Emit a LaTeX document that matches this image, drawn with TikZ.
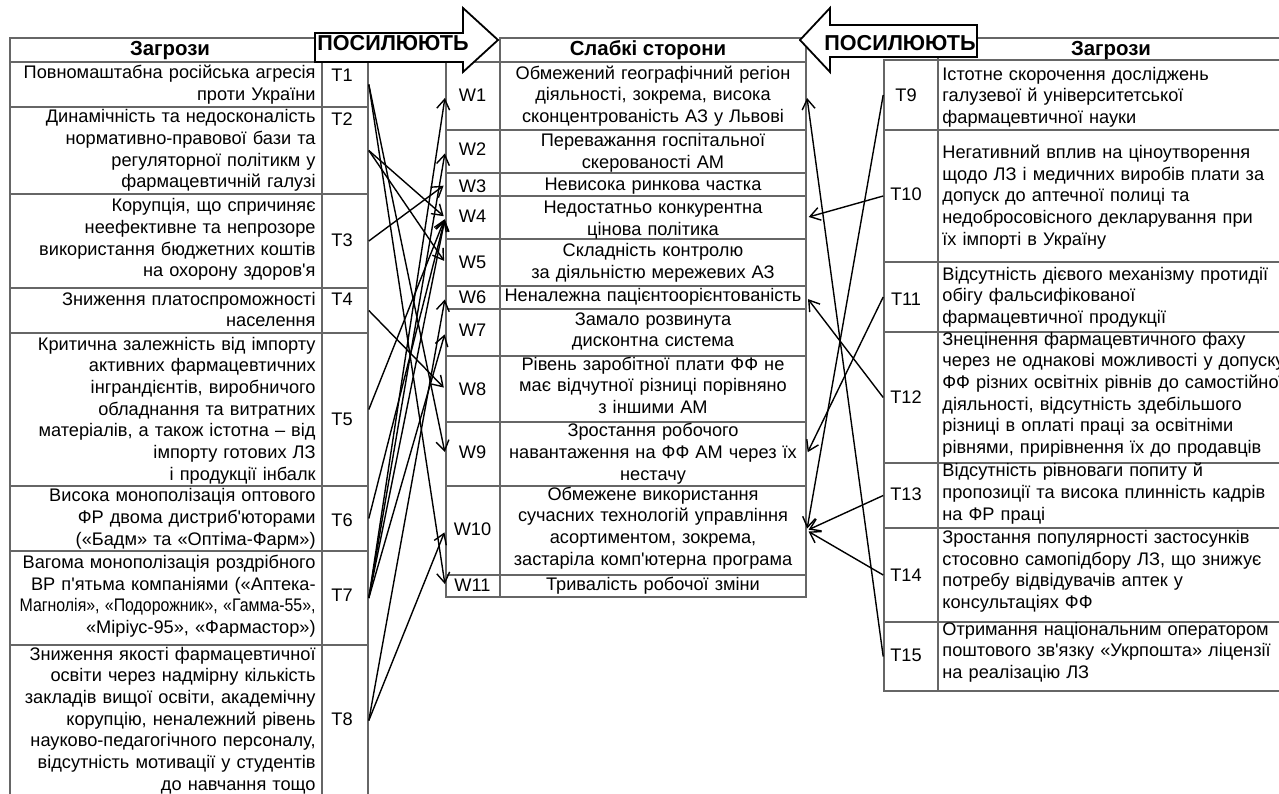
\documentclass[tikz,border=0pt]{standalone}
\usepackage{fontspec}
\setmainfont{Liberation Sans}
\newfontfamily\lsans{Liberation Sans}
\usepackage{graphicx}
\usetikzlibrary{fit,arrows.meta}
\definecolor{linegray}{HTML}{666666}
\begin{document}
\begin{tikzpicture}[x=0.5pt,y=-0.5pt,
  cell/.style={draw=linegray, line width=0.8pt, inner sep=0pt},
  body/.style={font=\lsans\fontsize{9.1}{10.85}\selectfont, inner sep=0pt},
  ltext/.style={body, text width=170pt, align=right, anchor=base east},
  mtext/.style={body, text width=170pt, align=center, anchor=base},
  rtext/.style={body, text width=220pt, align=left, anchor=base west},
  code/.style={body, anchor=base},
  hdr/.style={font=\lsans\bfseries\fontsize{10.2}{12}\selectfont, inner sep=0pt, anchor=base},
  bantext/.style={font=\lsans\bfseries\fontsize{10.8}{12}\selectfont, inner sep=0pt, anchor=base},
  link/.style={line width=0.7pt, shorten >=1pt, -{Straight Barb[length=5pt,width=6.5pt]}},
  banner/.style={draw=black, line width=0.9pt, fill=white, line join=miter}
]
\clip (0,0) rectangle (1279,793);
\fill[white] (0,0) rectangle (1279,793);

% ---------- left table ----------
\node[cell, fit={(10,38) (322,62)}] (lhead) {};
\foreach \n/\a/\b in {1/62/107,2/107/194,3/194/288,4/288/333,5/333/486,6/486/551,7/551/645,8/645/796}{
  \node[cell, fit={(10,\a) (322,\b)}] (lt\n) {};
  \node[cell, fit={(322,\a) (368,\b)}] (tc\n) {};
}
% ---------- middle table ----------
\node[cell, fit={(500,38) (806,62)}] (mhead) {};
\foreach \n/\a/\b in {1/62/130,2/130/173,3/173/196,4/196/239,5/239/286,6/286/309,7/309/356,8/356/422,9/422/486,10/486/575,11/575/597}{
  \node[cell, fit={(446,\a) (500,\b)}] (wc\n) {};
  \node[cell, fit={(500,\a) (806,\b)}] (wt\n) {};
}
% ---------- right table ----------
\node[cell, fit={(938,38) (1300,60)}] (rhead) {};
\foreach \n/\a/\b in {9/60/130,10/130/262,11/262/332,12/332/463,13/463/528,14/528/622,15/622/691}{
  \node[cell, fit={(884,\a) (938,\b)}] (tc\n) {};
  \node[cell, fit={(938,\a) (1300,\b)}] (rt\n) {};
}

% ---------- headers ----------
\node[hdr] (h1) at (170,55) {Загрози};
\node[hdr] (h2) at (648,55) {Слабкі сторони};
\node[hdr] (h3) at (1111,55) {Загрози};

% ---------- left texts ----------
\node[ltext] (l1) at (316,78.3) {Повномаштабна російська агресія\\проти України};
\node[ltext] (l2) at (316,122.7) {Динамічність та недосконалість\\нормативно-правової бази та\\регуляторної політикм у\\фармацевтичній галузі};
\node[ltext] (l3) at (316,211.7) {Корупція, що спричиняє\\неефективне та непрозоре\\використання бюджетних коштів\\на охорону здоров'я};
\node[ltext] (l4) at (316,305) {Зниження платоспроможності\\населення};
\node[ltext] (l5) at (316,350) {Критична залежність від імпорту\\активних фармацевтичних\\інграндієнтів, виробничого\\обладнання та витратних\\матеріалів, а також істотна – від\\імпорту готових ЛЗ\\і продукції інбалк};
\node[ltext] (l6) at (316,501.7) {Висока монополізація оптового\\ФР двома дистриб'юторами\\(«Бадм» та «Оптіма-Фарм»)};
\node[ltext] (l7) at (316,568.3) {Вагома монополізація роздрібного\\ВР п'ятьма компаніями («Аптека-\\\resizebox{148pt}{\height}{Магнолія», «Подорожник», «Гамма-55»,}\\«Міріус-95», «Фармастор»)};
\node[ltext] (l8) at (316,660) {Зниження якості фармацевтичної\\освіти через надмірну кількість\\закладів вищої освіти, академічну\\корупцію, неналежний рівень\\науково-педагогічного персоналу,\\відсутність мотивації у студентів\\до навчання тощо};

% ---------- middle texts ----------
\node[mtext] (m1) at (653,79) {Обмежений географічний регіон\\діяльності, зокрема, висока\\сконцентрованість АЗ у Львові};
\node[mtext] (m2) at (653,146.7) {Переважання госпітальної\\скерованості АМ};
\node[mtext] (m3) at (653,190) {Невисока ринкова частка};
\node[mtext] (m4) at (653,213.3) {Недостатньо конкурентна\\цінова політика};
\node[mtext] (m5) at (653,256.7) {Складність контролю\\за діяльністю мережевих АЗ};
\node[mtext] (m6) at (653,301.7) {Неналежна пацієнтоорієнтованість};
\node[mtext] (m7) at (653,325) {Замало розвинута\\дисконтна система};
\node[mtext] (m8) at (653,370) {Рівень заробітної плати ФФ не\\має відчутної різниці порівняно\\з іншими АМ};
\node[mtext] (m9) at (653,436.7) {Зростання робочого\\навантаження на ФФ АМ через їх\\нестачу};
\node[mtext] (m10) at (653,500) {Обмежене використання\\сучасних технологій управління\\асортиментом, зокрема,\\застаріла комп'ютерна програма};
\node[mtext] (m11) at (653,590) {Тривалість робочої зміни};

% ---------- right texts ----------
\node[rtext] (r9) at (942,80) {Істотне скорочення досліджень\\галузевої й університетської\\фармацевтичної науки};
\node[rtext] (r10) at (942,158.3) {Негативний вплив на ціноутворення\\щодо ЛЗ і медичних виробів плати за\\допуск до аптечної полиці та\\недобросовісного декларування при\\їх імпорті в Україну};
\node[rtext] (r11) at (942,280) {Відсутність дієвого механізму протидії\\обігу фальсифікованої\\фармацевтичної продукції};
\node[rtext] (r12) at (942,345) {Знецінення фармацевтичного фаху\\через не однакові можливості у допуску\\ФФ різних освітніх рівнів до самостійної\\діяльності, відсутність здебільшого\\різниці в оплаті праці за освітніми\\рівнями, прирівнення їх до продавців};
\node[rtext] (r13) at (942,476.7) {Відсутність рівноваги попиту й\\пропозиції та висока плинність кадрів\\на ФР праці};
\node[rtext] (r14) at (942,543.3) {Зростання популярності застосунків\\стосовно самопідбору ЛЗ, що знижує\\потребу відвідувачів аптек у\\консультаціях ФФ};
\node[rtext] (r15) at (942,635) {Отримання національним оператором\\поштового зв'язку «Укрпошта» ліцензії\\на реалізацію ЛЗ};

% ---------- codes ----------
\foreach \n/\yy in {1/81.7,2/125,3/246.7,4/305,5/425,6/526.7,7/601.7,8/725}
  \node[code] (tl\n) at (342,\yy) {T\n};
\foreach \n/\yy in {1/101.7,2/155,3/192.7,4/222.7,5/268.3,6/303.3,7/336.7,8/395,9/458.3,10/535,11/591.7}
  \node[code] (wl\n) at (472.5,\yy) {W\n};
\foreach \n/\yy in {9/101.7,10/200,11/305,12/403.3,13/500,14/581.7,15/661.7}
  \node[code] (tl\n) at (906,\yy) {T\n};

% ---------- connectors ----------
\foreach \s/\t in {1/9,1/11,2/4,2/5,3/3,4/8,5/4,6/4,7/1,7/2,7/4,7/7,8/6,8/10}
  \draw[link] (tc\s.east) -- (wc\t.west);
\foreach \s/\t in {9/10,10/4,11/9,12/6,13/10,14/10,15/1}
  \draw[link] (tc\s.west) -- (wt\t.east);

% ---------- banners ----------
\draw[banner] (315,33) -- (463,33) -- (463,8) -- (498,40) -- (463,72) -- (463,62) -- (315,62) -- cycle;
\node[bantext] (b1) at (393,50) {ПОСИЛЮЮТЬ};
\draw[banner] (977,25) -- (830,25) -- (830,8) -- (800,40) -- (830,72) -- (830,57) -- (977,57) -- cycle;
\node[bantext] (b2) at (900,50) {ПОСИЛЮЮТЬ};
\end{tikzpicture}
\end{document}
